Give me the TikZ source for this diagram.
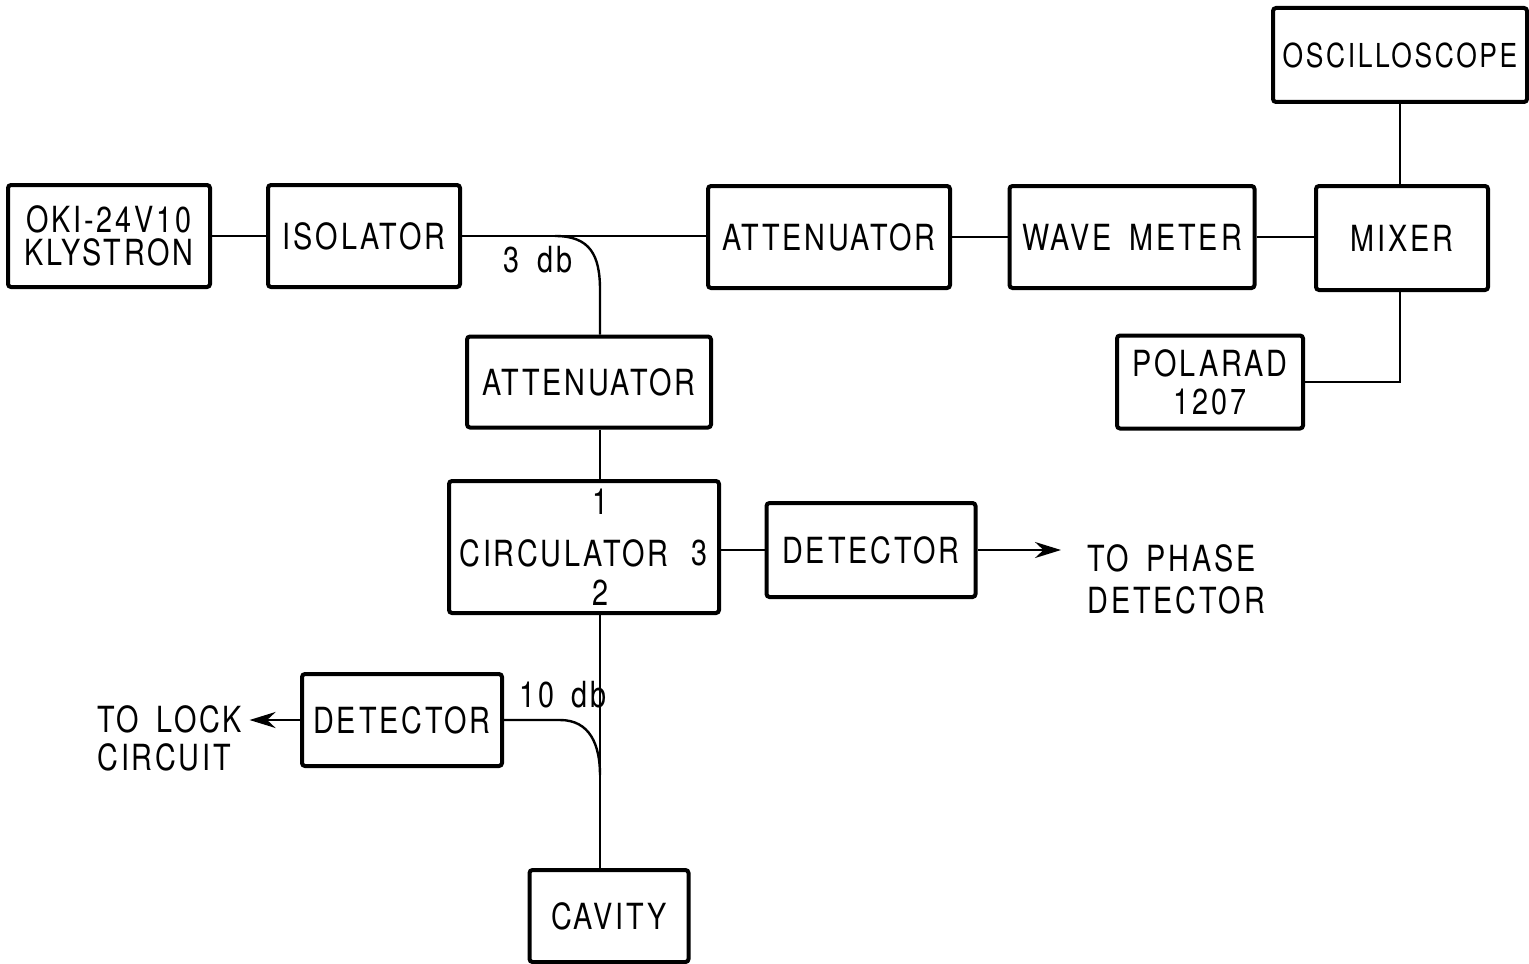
\documentclass[tikz,border=0pt]{standalone}
\usepackage{fontspec}
\setmainfont{TeX Gyre Heros}[FakeStretch=0.8,LetterSpace=8,WordSpace=1.6]
\usetikzlibrary{arrows.meta}
\tikzset{
  blk/.style={draw, line width=2pt, rounded corners=1.5pt, align=center,
              font=\fontsize{18}{19}\selectfont, inner sep=2pt},
  lbl/.style={align=left, font=\fontsize{18}{19}\selectfont, inner sep=0pt},
  lnk/.style={line width=1.2pt},
  arr/.style={lnk, -{Stealth[length=13pt, width=8pt]}},
}
\begin{document}
\begin{tikzpicture}[x=0.5pt, y=-0.5pt]
  \useasboundingbox (0,0) rectangle (1529,963);
  % main line
  \node[blk, minimum width=101pt, minimum height=51pt,
        font=\fontsize{18}{16.5}\selectfont] (klys) at (109,236) {OKI-24V10\\KLYSTRON};
  \node[blk, minimum width=96pt, minimum height=51pt] (iso) at (364,236) {ISOLATOR};
  \node[blk, minimum width=121pt, minimum height=51pt] (attA) at (829,237) {ATTENUATOR};
  \node[blk, minimum width=122.5pt, minimum height=51pt] (wave) at (1132,237) {WAVE METER};
  \node[blk, minimum width=86pt, minimum height=52pt] (mix) at (1402,238) {MIXER};
  \node[blk, minimum width=127pt, minimum height=47pt,
        font=\fontsize{16.5}{19}\selectfont] (osc) at (1400,55) {OSCILLOSCOPE};
  \node[blk, minimum width=93pt, minimum height=46.5pt] (pol) at (1210,382) {POLARAD\\1207};
  % branch
  \node[blk, minimum width=122pt, minimum height=45.5pt] (attB) at (589,382) {ATTENUATOR};
  \node[blk, minimum width=135pt, minimum height=66pt] (circ) at (584,547) {};
  \node[lbl] (circT) at (564,553) {CIRCULATOR};
  \node[lbl] (port1) at (600,502) {1};
  \node[lbl] (port2) at (600,593) {2};
  \node[lbl] (port3) at (699,553) {3};
  \node[blk, minimum width=104.5pt, minimum height=47pt] (detA) at (871,550) {DETECTOR};
  \node[blk, minimum width=100pt, minimum height=46pt] (detB) at (402,720) {DETECTOR};
  \node[blk, minimum width=79.5pt, minimum height=46pt] (cav) at (609,916) {CAVITY};
  \node[lbl, anchor=west, font=\fontsize{18}{21}\selectfont] (phase) at (1087,579) {TO PHASE\\DETECTOR};
  \node[lbl, anchor=west] (lock) at (97,738) {TO LOCK\\CIRCUIT};
  \node[lbl] (db3) at (538,260) {3 db};
  \node[lbl] (db10) at (563,695) {10 db};
  \coordinate (axis) at (600,0);
  \coordinate (tap3) at (555,236);
  \coordinate (tap10) at (560,720);

  \draw[lnk] (klys.east) -- (iso.west);
  \draw[lnk] (iso.east) -- (iso.east -| attA.west);
  \draw[lnk] (attA.east) -- (attA.east -| wave.west);
  \draw[lnk] (wave.east) -- (wave.east -| mix.west);
  \draw[lnk] (osc.south) -- (osc.south |- mix.north);
  \draw[lnk] (osc.south |- mix.south) |- (pol.east);
  \draw[lnk] (tap3) .. controls (590,236) and (600,255) .. (600,290) -- (attB.north -| axis);
  \draw[lnk] (attB.south -| axis) -- (circ.north -| axis);
  \draw[lnk] (circ.east |- detA.west) -- (detA.west);
  \draw[arr, shorten >=13pt] (detA.east) -- (phase.west |- detA.east);
  \draw[lnk] (circ.south -| axis) -- (cav.north -| axis);
  \draw[lnk] (detB.east) -- (tap10) .. controls (590,720) and (600,745) .. (600,775);
  \draw[arr, shorten >=3.5pt] (detB.west) -- (lock.east |- detB.west);
\end{tikzpicture}
\end{document}
